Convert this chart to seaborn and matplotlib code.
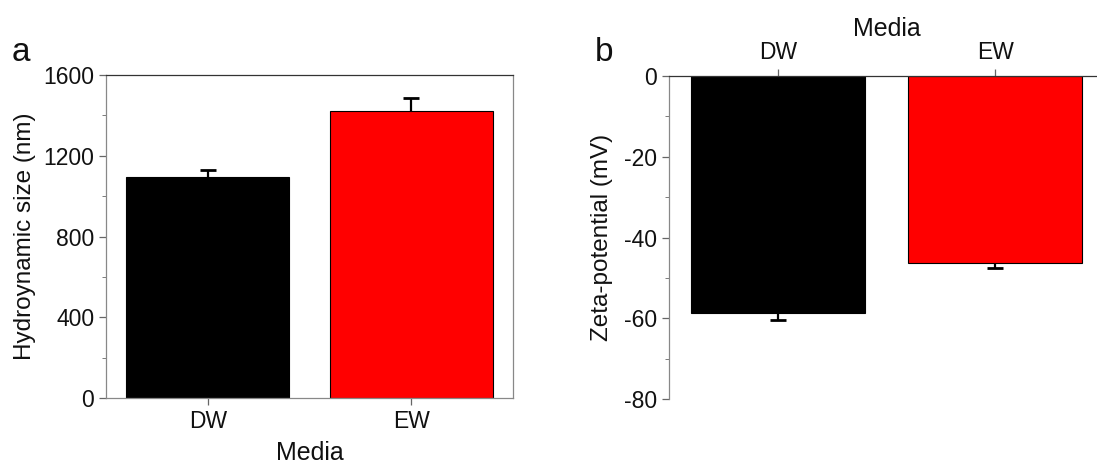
import numpy as np
import pandas as pd
import seaborn as sns
import matplotlib.pyplot as plt
from matplotlib.ticker import MultipleLocator

# dados
media = ["DW", "EW"]
size_nm = [1095, 1422]
size_err = [36, 66]
zeta_mv = [-58.6, -46.4]
zeta_err = [1.8, 1.2]
cores = ["#000000", "#ff0000"]

sns.set_style("ticks")
plt.rcParams['font.family'] = ['Liberation Sans', 'DejaVu Sans']
plt.rcParams['axes.unicode_minus'] = False
plt.rcParams['text.color'] = "#111111"
plt.rcParams['axes.labelcolor'] = "#111111"
plt.rcParams['xtick.labelcolor'] = "#111111"
plt.rcParams['ytick.labelcolor'] = "#111111"

df_a = pd.DataFrame({"Media": media, "size": size_nm})
df_b = pd.DataFrame({"Media": media, "zeta": zeta_mv})

fig = plt.figure(figsize=(10.97, 4.68), dpi=100)
ax1 = fig.add_axes([0.0966, 0.1496, 0.371, 0.6901])
ax2 = fig.add_axes([0.6098, 0.1474, 0.3965, 0.6902])


def estilo(ax):
    for s in ax.spines.values():
        s.set_linewidth(0.9)
    ax.tick_params(axis="both", which="major", labelsize=16.5, length=5,
                   color="#666666", width=0.9)
    ax.tick_params(axis="y", which="minor", length=3, color="#666666")


# painel a
sns.barplot(data=df_a, x="Media", y="size", hue="Media", palette=cores,
            saturation=1, legend=False, width=0.8, edgecolor="black",
            linewidth=0.8, ax=ax1)
_, caps, _ = ax1.errorbar(range(len(media)), size_nm, yerr=[np.zeros(2), size_err],
                          fmt="none", ecolor="black", elinewidth=1.6,
                          capsize=6, capthick=2)
caps[0].set_visible(False)
ax1.set_xlim(-0.5, 1.5)
ax1.set_ylim(0, 1600)
ax1.yaxis.set_major_locator(MultipleLocator(400))
ax1.yaxis.set_minor_locator(MultipleLocator(200))
ax1.set_xlabel("Media", fontsize=18, labelpad=6)
ax1.set_ylabel("Hydroynamic size (nm)", fontsize=17.5, labelpad=5)
for s in ["left", "right", "bottom"]:
    ax1.spines[s].set_color("#888888")
ax1.spines["top"].set_color("#333333")
estilo(ax1)

# painel b
sns.barplot(data=df_b, x="Media", y="zeta", hue="Media", palette=cores,
            saturation=1, legend=False, width=0.8, edgecolor="black",
            linewidth=0.8, ax=ax2)
_, caps, _ = ax2.errorbar(range(len(media)), zeta_mv, yerr=[zeta_err, np.zeros(2)],
                          fmt="none", ecolor="black", elinewidth=1.6,
                          capsize=6, capthick=2)
caps[1].set_visible(False)
ax2.set_xlim(-0.5, 1.5)
ax2.set_ylim(-80, 0)
ax2.yaxis.set_major_locator(MultipleLocator(20))
ax2.yaxis.set_minor_locator(MultipleLocator(10))
ax2.xaxis.tick_top()
ax2.xaxis.set_label_position("top")
ax2.set_xlabel("Media", fontsize=18, labelpad=4)
ax2.set_ylabel("Zeta-potential (mV)", fontsize=17.5, labelpad=8)
ax2.spines["bottom"].set_visible(False)
ax2.spines["right"].set_visible(False)
ax2.spines["left"].set_color("#888888")
ax2.spines["top"].set_color("#333333")
estilo(ax2)

fig.text(0.011, 0.87, "a", fontsize=24)
fig.text(0.542, 0.87, "b", fontsize=24)

plt.savefig("out.png", dpi=100)
